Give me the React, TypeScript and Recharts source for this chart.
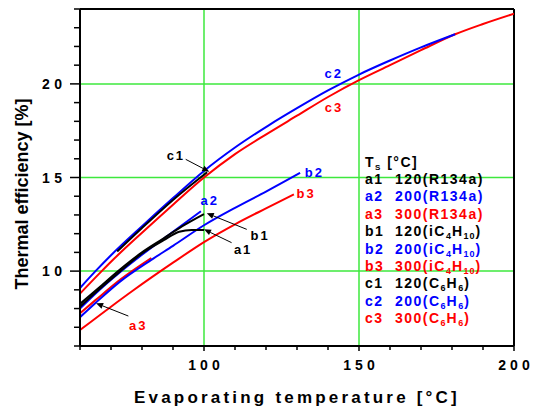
import React from "react";
import {
  LineChart,
  Line,
  XAxis,
  YAxis,
  CartesianGrid,
  ReferenceLine,
  ReferenceDot,
} from "recharts";

const FONT = "Arial, 'Liberation Sans', Helvetica, sans-serif";
const BLACK = "#000000";
const BLUE = "#0000ff";
const RED = "#ff0000";
const GREEN = "#3de83d";

// evaporating temperature [°C] / thermal efficiency [%]
const A1_T = [60, 66, 73, 80, 87, 92, 96, 100];
const A1_ETA = [8.1, 9.0, 10.0, 10.95, 11.65, 12.1, 12.2, 12.2];
const A2_T = [60, 66, 73, 80, 90, 99];
const A2_ETA = [8.0, 8.95, 9.95, 10.87, 12.1, 13.2];
const A3_T = [60, 65, 73, 83];
const A3_ETA = [7.75, 8.45, 9.55, 10.7];

const B1_T = [60, 66, 73, 80, 87, 93, 100];
const B1_ETA = [8.25, 9.1, 10.1, 11.0, 11.75, 12.4, 13.05];
const B2_T = [60, 65, 73, 83, 90, 100, 110, 120, 131];
const B2_ETA = [7.54, 8.3, 9.45, 10.6, 11.35, 12.45, 13.38, 14.25, 15.25];
const B3_T = [60, 70, 77, 90, 100, 110, 120, 129];
const B3_ETA = [6.85, 8.1, 8.95, 10.45, 11.55, 12.5, 13.35, 14.1];

const C1_T = [72, 80, 90, 101];
const C1_ETA = [11.05, 12.3, 13.8, 15.28];
const C2_T = [60, 65, 70, 80, 90, 100, 110, 121, 130, 140, 150, 160, 170, 181];
const C2_ETA = [9.1, 10.0, 10.85, 12.4, 13.9, 15.35, 16.6, 17.8, 18.7, 19.65, 20.5, 21.25, 21.95, 22.65];
const C3_T = [60, 67, 70, 80, 90, 100, 110, 121, 130, 140, 150, 160, 170, 181, 190, 200];
const C3_ETA = [8.8, 10.0, 10.5, 12.05, 13.55, 15.0, 16.25, 17.4, 18.3, 19.3, 20.2, 21.0, 21.8, 22.65, 23.2, 23.75];

const X_TICKS = [60, 70, 80, 90, 100, 110, 120, 130, 140, 150, 160, 170, 180, 190, 200];
const X_LABELS = [100, 150, 200];
const Y_TICKS = [6, 7, 8, 9, 10, 11, 12, 13, 14, 15, 16, 17, 18, 19, 20, 21, 22, 23, 24];
const Y_LABELS = [10, 15, 20];
const GRID_X = [100, 150];
const GRID_Y = [10, 15, 20];

// curve tags inside the plot
const TAG_TEXT = ["c1", "a2", "b1", "a1", "a3", "b2", "b3", "c2", "c3"];
const TAG_COLOR = [BLACK, BLUE, BLACK, BLACK, RED, BLUE, RED, BLUE, RED];
const TAG_T = [90.6, 101.5, 117.8, 112.3, 78.5, 135.3, 132.6, 141.5, 141.6];
const TAG_ETA = [16.2, 13.8, 11.93, 11.18, 7.12, 15.3, 14.16, 20.6, 18.78];

// leader arrows: tail -> head
const ARROW_T0 = [94.1, 113.8, 108.9, 75.6];
const ARROW_E0 = [15.97, 12.23, 11.52, 7.6];
const ARROW_T1 = [101.7, 100.9, 100.0, 65.2];
const ARROW_E1 = [15.31, 13.09, 12.23, 8.28];

// legend block
const LEG_CODE = ["a1", "a2", "a3", "b1", "b2", "b3", "c1", "c2", "c3"];
const LEG_TS = ["120", "200", "300", "120", "200", "300", "120", "200", "300"];
const LEG_FLUID = [0, 0, 0, 1, 1, 1, 2, 2, 2];
const LEG_COLOR = [BLACK, BLUE, RED, BLACK, BLUE, RED, BLACK, BLUE, RED];
// fluid names as [text, subscript, text, subscript, ...]
const FLUIDS = [["R134a"], ["iC", "4", "H", "10"], ["C", "6", "H", "6"]];
const LEG_T = 151.9;
const LEG_ETA = 15.85;

const pts = (t: number[], eta: number[]) => t.map((v, i) => ({ t: v, eta: eta[i] }));

const SERIES = [
  { key: "a3", data: pts(A3_T, A3_ETA), color: RED },
  { key: "b3", data: pts(B3_T, B3_ETA), color: RED },
  { key: "c3", data: pts(C3_T, C3_ETA), color: RED },
  { key: "a2", data: pts(A2_T, A2_ETA), color: BLUE },
  { key: "b2", data: pts(B2_T, B2_ETA), color: BLUE },
  { key: "c2", data: pts(C2_T, C2_ETA), color: BLUE },
  { key: "a1", data: pts(A1_T, A1_ETA), color: BLACK },
  { key: "b1", data: pts(B1_T, B1_ETA), color: BLACK },
  { key: "c1", data: pts(C1_T, C1_ETA), color: BLACK },
];

function XTick({ x, y, payload }: any) {
  const major = X_LABELS.includes(payload.value);
  return (
    <g>
      <line x1={x} x2={x} y1={y} y2={y + (major ? 5 : 4)} stroke={BLACK} strokeWidth={1.5} />
      {major && (
        <text x={x + 2} y={y + 24} textAnchor="middle" fontFamily={FONT} fontWeight="bold"
          fontSize={14} letterSpacing={4} fill={BLACK}>
          {payload.value}
        </text>
      )}
    </g>
  );
}

function YTick({ x, y, payload }: any) {
  const major = Y_LABELS.includes(payload.value);
  return (
    <g>
      <line x1={x - (major ? 10 : 6)} x2={x} y1={y} y2={y} stroke={BLACK} strokeWidth={1.5} />
      {major && (
        <text x={x - 13.5} y={y + 5} textAnchor="end" fontFamily={FONT} fontWeight="bold"
          fontSize={14} letterSpacing={4.5} fill={BLACK}>
          {payload.value}
        </text>
      )}
    </g>
  );
}

function Tag({ cx, cy, text, color }: any) {
  return (
    <text x={cx + 1} y={cy + 5} textAnchor="middle" fontFamily={FONT} fontWeight="bold"
      fontSize={13} letterSpacing={2} fill={color}>
      {text}
    </text>
  );
}

function Arrow({ x1, y1, x2, y2 }: any) {
  const a = Math.atan2(y2 - y1, x2 - x1);
  const len = 7;
  const w = 3;
  const bx = x2 - len * Math.cos(a);
  const by = y2 - len * Math.sin(a);
  const nx = -Math.sin(a) * w;
  const ny = Math.cos(a) * w;
  return (
    <g>
      <line x1={x1} y1={y1} x2={bx} y2={by} stroke={BLACK} strokeWidth={1} />
      <polygon points={`${x2},${y2} ${bx + nx},${by + ny} ${bx - nx},${by - ny}`} fill={BLACK} />
    </g>
  );
}

function Fluid({ parts }: { parts: string[] }) {
  return (
    <>
      {parts.map((p, i) =>
        i % 2 === 1 ? (
          <tspan key={i} fontSize={9} dy={3} letterSpacing={1}>{p}</tspan>
        ) : (
          <tspan key={i} dy={i === 0 ? 0 : -3}>{p}</tspan>
        )
      )}
    </>
  );
}

function LegendBlock({ cx, cy }: any) {
  const step = 17.4;
  const base = cy + 5;
  return (
    <g fontFamily={FONT} fontWeight="bold" fontSize={14} letterSpacing={1.5}>
      <text x={cx} y={base} fill={BLACK}>
        T<tspan fontSize={8} dy={3}>S</tspan>
        <tspan dy={-3}> [°C]</tspan>
      </text>
      {LEG_CODE.map((code, i) => (
        <g key={code} fill={LEG_COLOR[i]}>
          <text x={cx} y={base + (i + 1) * step}>{code}</text>
          <text x={cx + 30} y={base + (i + 1) * step}>
            {LEG_TS[i]}(<Fluid parts={FLUIDS[LEG_FLUID[i]]} />
            {FLUIDS[LEG_FLUID[i]].length > 1 ? <tspan dy={-3}>)</tspan> : ")"}
          </text>
        </g>
      ))}
    </g>
  );
}

export default function App() {
  return (
    <div style={{ width: 533, height: 407, background: "#fff" }}>
      <style>{"body{margin:0}"}</style>
      <LineChart width={533} height={407} margin={{ top: 9, right: 19, bottom: 0, left: 0 }}>
        <CartesianGrid
          horizontal
          vertical
          horizontalValues={GRID_Y}
          verticalValues={GRID_X}
          stroke={GREEN}
          strokeWidth={1.5}
        />
        <XAxis
          type="number"
          dataKey="t"
          domain={[60, 200]}
          ticks={X_TICKS}
          interval={0}
          height={61}
          tickSize={0}
          tickMargin={0}
          tickLine={false}
          tick={<XTick />}
          axisLine={{ stroke: BLACK, strokeWidth: 2 }}
          allowDataOverflow
          label={{
            content: ({ viewBox }: any) => (
              <text x={viewBox.x + viewBox.width / 2} y={viewBox.y + 57} textAnchor="middle"
                fontFamily={FONT} fontWeight="bold" fontSize={17} letterSpacing={3.2} fill={BLACK}>
                Evaporating temperature [°C]
              </text>
            ),
          }}
        />
        <YAxis
          type="number"
          domain={[6, 24]}
          ticks={Y_TICKS}
          interval={0}
          width={80}
          tickSize={0}
          tickMargin={0}
          tickLine={false}
          tick={<YTick />}
          axisLine={{ stroke: BLACK, strokeWidth: 2 }}
          allowDataOverflow
          label={{
            content: ({ viewBox }: any) => {
              const cy = viewBox.y + viewBox.height / 2 + 16.5;
              return (
                <text x={28} y={cy} transform={`rotate(-90 28 ${cy})`} textAnchor="middle"
                  fontFamily={FONT} fontWeight="bold" fontSize={18} fill={BLACK}>
                  Thermal efficiency [%]
                </text>
              );
            },
          }}
        />
        <ReferenceLine y={24} stroke={BLACK} strokeWidth={2} />
        <ReferenceLine x={200} stroke={BLACK} strokeWidth={2} />
        {SERIES.map((s) => (
          <Line
            key={s.key}
            data={s.data}
            dataKey="eta"
            type="monotone"
            stroke={s.color}
            strokeWidth={2}
            dot={false}
            activeDot={false}
            isAnimationActive={false}
          />
        ))}
        {ARROW_T0.map((t0, i) => (
          <ReferenceLine
            key={`arr${i}`}
            segment={[
              { x: t0, y: ARROW_E0[i] },
              { x: ARROW_T1[i], y: ARROW_E1[i] },
            ]}
            shape={(p: any) => <Arrow {...p} />}
          />
        ))}
        {TAG_TEXT.map((text, i) => (
          <ReferenceDot
            key={`tag${i}`}
            x={TAG_T[i]}
            y={TAG_ETA[i]}
            r={0}
            shape={(p: any) => <Tag {...p} text={text} color={TAG_COLOR[i]} />}
          />
        ))}
        <ReferenceDot x={LEG_T} y={LEG_ETA} r={0} shape={(p: any) => <LegendBlock {...p} />} />
      </LineChart>
    </div>
  );
}
